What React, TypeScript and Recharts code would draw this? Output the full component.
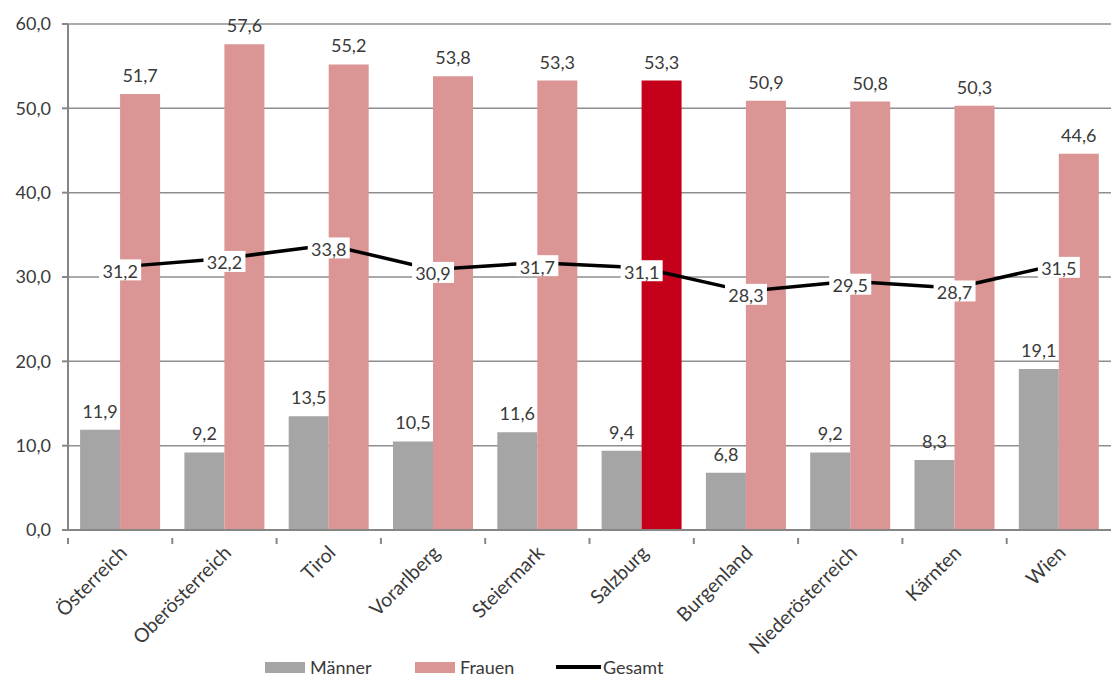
import {
  Bar,
  CartesianGrid,
  Cell,
  ComposedChart,
  LabelList,
  Line,
  XAxis,
  YAxis,
} from "recharts";

const regions = [
  "Österreich",
  "Oberösterreich",
  "Tirol",
  "Vorarlberg",
  "Steiermark",
  "Salzburg",
  "Burgenland",
  "Niederösterreich",
  "Kärnten",
  "Wien",
];
const maenner = [11.9, 9.2, 13.5, 10.5, 11.6, 9.4, 6.8, 9.2, 8.3, 19.1];
const frauen = [51.7, 57.6, 55.2, 53.8, 53.3, 53.3, 50.9, 50.8, 50.3, 44.6];
const gesamt = [31.2, 32.2, 33.8, 30.9, 31.7, 31.1, 28.3, 29.5, 28.7, 31.5];
const yTicks = [0, 10, 20, 30, 40, 50, 60];
const highlight = "Salzburg";

const colors = {
  maenner: "#a5a5a5",
  frauen: "#da9594",
  highlight: "#c4001a",
  gesamt: "#000000",
  text: "#3a3a3a",
  axis: "#868686",
  grid: "#8e8e8e",
};

const W = 1111;
const H = 679;
const Y_AXIS_W = 68;
const BAND = (W - Y_AXIS_W) / regions.length;
const FONT = "Lato, 'Open Sans', sans-serif";

const fmt = (v: number) => v.toFixed(1).replace(".", ",");

const data = regions.map((name, i) => ({
  name,
  maenner: maenner[i],
  frauen: frauen[i],
  gesamt: gesamt[i],
}));

const XTick = (props: any) => {
  const { x, y, payload } = props;
  const left = x - BAND / 2;
  return (
    <g>
      <line x1={left} x2={left} y1={y} y2={y + 6} stroke={colors.axis} strokeWidth={2} />
      <text
        x={0}
        y={0}
        textAnchor="end"
        fontSize={19.5}
        fill={colors.text}
        fontFamily={FONT}
        transform={`translate(${x + 8},${y + 16}) rotate(-45)`}
      >
        {payload.value}
      </text>
    </g>
  );
};

const GesamtLabel = (props: any) => {
  const { x, y, value } = props;
  const w = 42;
  const h = 21;
  return (
    <g>
      <rect x={x - w / 2} y={y - h / 2 + 3} width={w} height={h} fill="#ffffff" />
      <text
        x={x}
        y={y + 4}
        textAnchor="middle"
        dominantBaseline="central"
        fontSize={18}
        fill={colors.text}
        fontFamily={FONT}
      >
        {fmt(value)}
      </text>
    </g>
  );
};

const legendItems = [
  { label: "Männer", color: colors.maenner, kind: "box", left: 265 },
  { label: "Frauen", color: colors.frauen, kind: "box", left: 415 },
  { label: "Gesamt", color: colors.gesamt, kind: "line", left: 556 },
];

export default function App() {
  return (
    <div style={{ position: "absolute", left: 0, top: 0, width: W, height: H, background: "#fff", overflow: "hidden" }}>
      <ComposedChart
        width={W}
        height={H}
        data={data}
        margin={{ top: 24, right: 0, left: 0, bottom: 0 }}
        barCategoryGap="11.6%"
        barGap={0}
      >
        <CartesianGrid vertical={false} stroke={colors.grid} strokeWidth={1.5} />
        <XAxis
          dataKey="name"
          height={H - 24 - 506}
          interval={0}
          tickLine={false}
          axisLine={{ stroke: colors.axis, strokeWidth: 2 }}
          tick={<XTick />}
        />
        <YAxis
          domain={[0, 60]}
          ticks={yTicks}
          width={Y_AXIS_W}
          tickFormatter={fmt}
          axisLine={{ stroke: colors.axis, strokeWidth: 2 }}
          tickLine={{ stroke: colors.axis, strokeWidth: 2 }}
          tickSize={6}
          dx={-9}
          tick={{ fill: colors.text, fontSize: 18, fontFamily: FONT }}
          allowDataOverflow
        />
        <Bar dataKey="maenner" fill={colors.maenner} isAnimationActive={false}>
          <LabelList
            dataKey="maenner"
            position="top"
            offset={12}
            formatter={(v: any) => fmt(Number(v))}
            style={{ fill: colors.text, fontSize: 18, fontFamily: FONT }}
          />
        </Bar>
        <Bar dataKey="frauen" fill={colors.frauen} isAnimationActive={false}>
          {data.map((d) => (
            <Cell key={d.name} fill={d.name === highlight ? colors.highlight : colors.frauen} />
          ))}
          <LabelList
            dataKey="frauen"
            position="top"
            offset={12}
            formatter={(v: any) => fmt(Number(v))}
            style={{ fill: colors.text, fontSize: 18, fontFamily: FONT }}
          />
        </Bar>
        <Line
          dataKey="gesamt"
          stroke={colors.gesamt}
          strokeWidth={3.5}
          dot={false}
          activeDot={false}
          type="linear"
          isAnimationActive={false}
        >
          <LabelList dataKey="gesamt" content={<GesamtLabel />} />
        </Line>
      </ComposedChart>
      {legendItems.map((item) => (
        <div
          key={item.label}
          style={{
            position: "absolute",
            left: item.left,
            top: 656,
            height: 22,
            display: "flex",
            alignItems: "center",
            fontFamily: FONT,
            fontSize: 18,
            color: colors.text,
          }}
        >
          {item.kind === "box" ? (
            <span style={{ display: "inline-block", width: 40, height: 11, background: item.color, marginRight: 5 }} />
          ) : (
            <span style={{ display: "inline-block", width: 45, height: 4, background: item.color, marginRight: 2 }} />
          )}
          {item.label}
        </div>
      ))}
    </div>
  );
}
